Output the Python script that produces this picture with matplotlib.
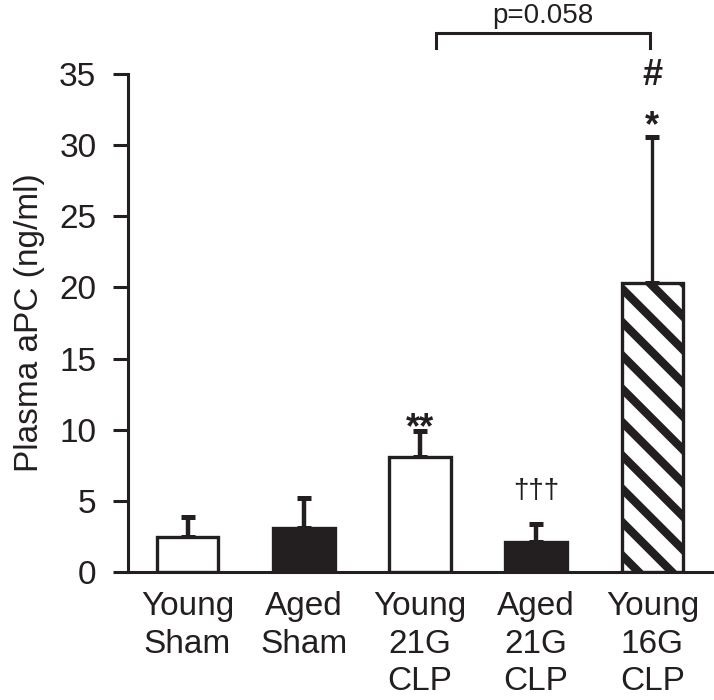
import matplotlib.pyplot as plt
import numpy as np

plt.rcParams['font.family'] = ['Liberation Sans', 'DejaVu Sans']
plt.rcParams['hatch.linewidth'] = 3.0

# data
groups = ['Young\nSham', 'Aged\nSham', 'Young\n21G\nCLP', 'Aged\n21G\nCLP', 'Young\n16G\nCLP']
means = [2.45, 3.1, 8.1, 2.1, 20.3]
errs = [1.4, 2.1, 1.8, 1.27, 10.3]
fills = ['white', '#231f20', 'white', '#231f20', 'white']
hatches = ['', '', '', '', '\\\\']
marks = ['', '', '**', '\u2020\u2020\u2020', '*']
p_text = 'p=0.058'

ink = '#231f20'

fig = plt.figure(figsize=(3.57, 3.5), dpi=200)
ax = fig.add_axes([0.1793, 0.1829, 0.8207, 0.7114])

x = np.arange(len(groups))
bars = ax.bar(x, means, width=0.53, color=fills, edgecolor=ink, linewidth=1.2, zorder=2)
for b, h in zip(bars, hatches):
    b.set_hatch(h)

eb = ax.errorbar(x, means, yerr=[np.zeros(len(errs)), errs], fmt='none', ecolor=ink,
                 elinewidth=1.6, capsize=2.4, capthick=1.8, zorder=1)
eb.lines[2][0].set_linewidths([1.6, 1.6, 1.6, 1.6, 1.2])

# significance marks above the error bars
tops = np.array(means) + np.array(errs)
ax.annotate(marks[2], (x[2], tops[2]), xytext=(0, -2.4), textcoords='offset points',
            ha='center', va='baseline', fontsize=13, fontweight='bold', color=ink)
ax.annotate(marks[3], (x[3], tops[3]), xytext=(0, 9.4), textcoords='offset points',
            ha='center', va='baseline', fontsize=10, color=ink)
ax.annotate(marks[4], (x[4], tops[4]), xytext=(0, 0), textcoords='offset points',
            ha='center', va='baseline', fontsize=13, fontweight='bold', color=ink)
ax.annotate('#', (x[4], tops[4]), xytext=(0, 18.7), textcoords='offset points',
            ha='center', va='baseline', fontsize=13, fontweight='bold', color=ink)

# bracket comparing Young 21G CLP and Young 16G CLP
bl, br = x[2] + 0.14, x[4] - 0.02
ax.plot([bl, bl, br, br], [36.8, 37.9, 37.9, 36.8], color=ink, lw=1.1,
        clip_on=False, solid_joinstyle='miter')
ax.text((bl + br) / 2, 38.6, p_text, ha='center', va='baseline', fontsize=10, color=ink)

ax.set_xlim(-0.512, 4.53)
ax.set_ylim(0, 35)
ax.set_yticks(range(0, 36, 5))
ax.set_xticks(x)
ax.set_xticklabels(groups, fontsize=12, color=ink, linespacing=1.26)
ax.tick_params(axis='x', length=0, pad=7)
ax.tick_params(axis='y', length=5.4, width=1.1, pad=6, labelsize=12, labelcolor=ink, color=ink)
ax.set_ylabel('Plasma aPC (ng/ml)', fontsize=12, color=ink, labelpad=5)

for s in ['top', 'right']:
    ax.spines[s].set_visible(False)
for s in ['left', 'bottom']:
    ax.spines[s].set_linewidth(1.1)
    ax.spines[s].set_color(ink)

fig.savefig('out.png', dpi=200)
